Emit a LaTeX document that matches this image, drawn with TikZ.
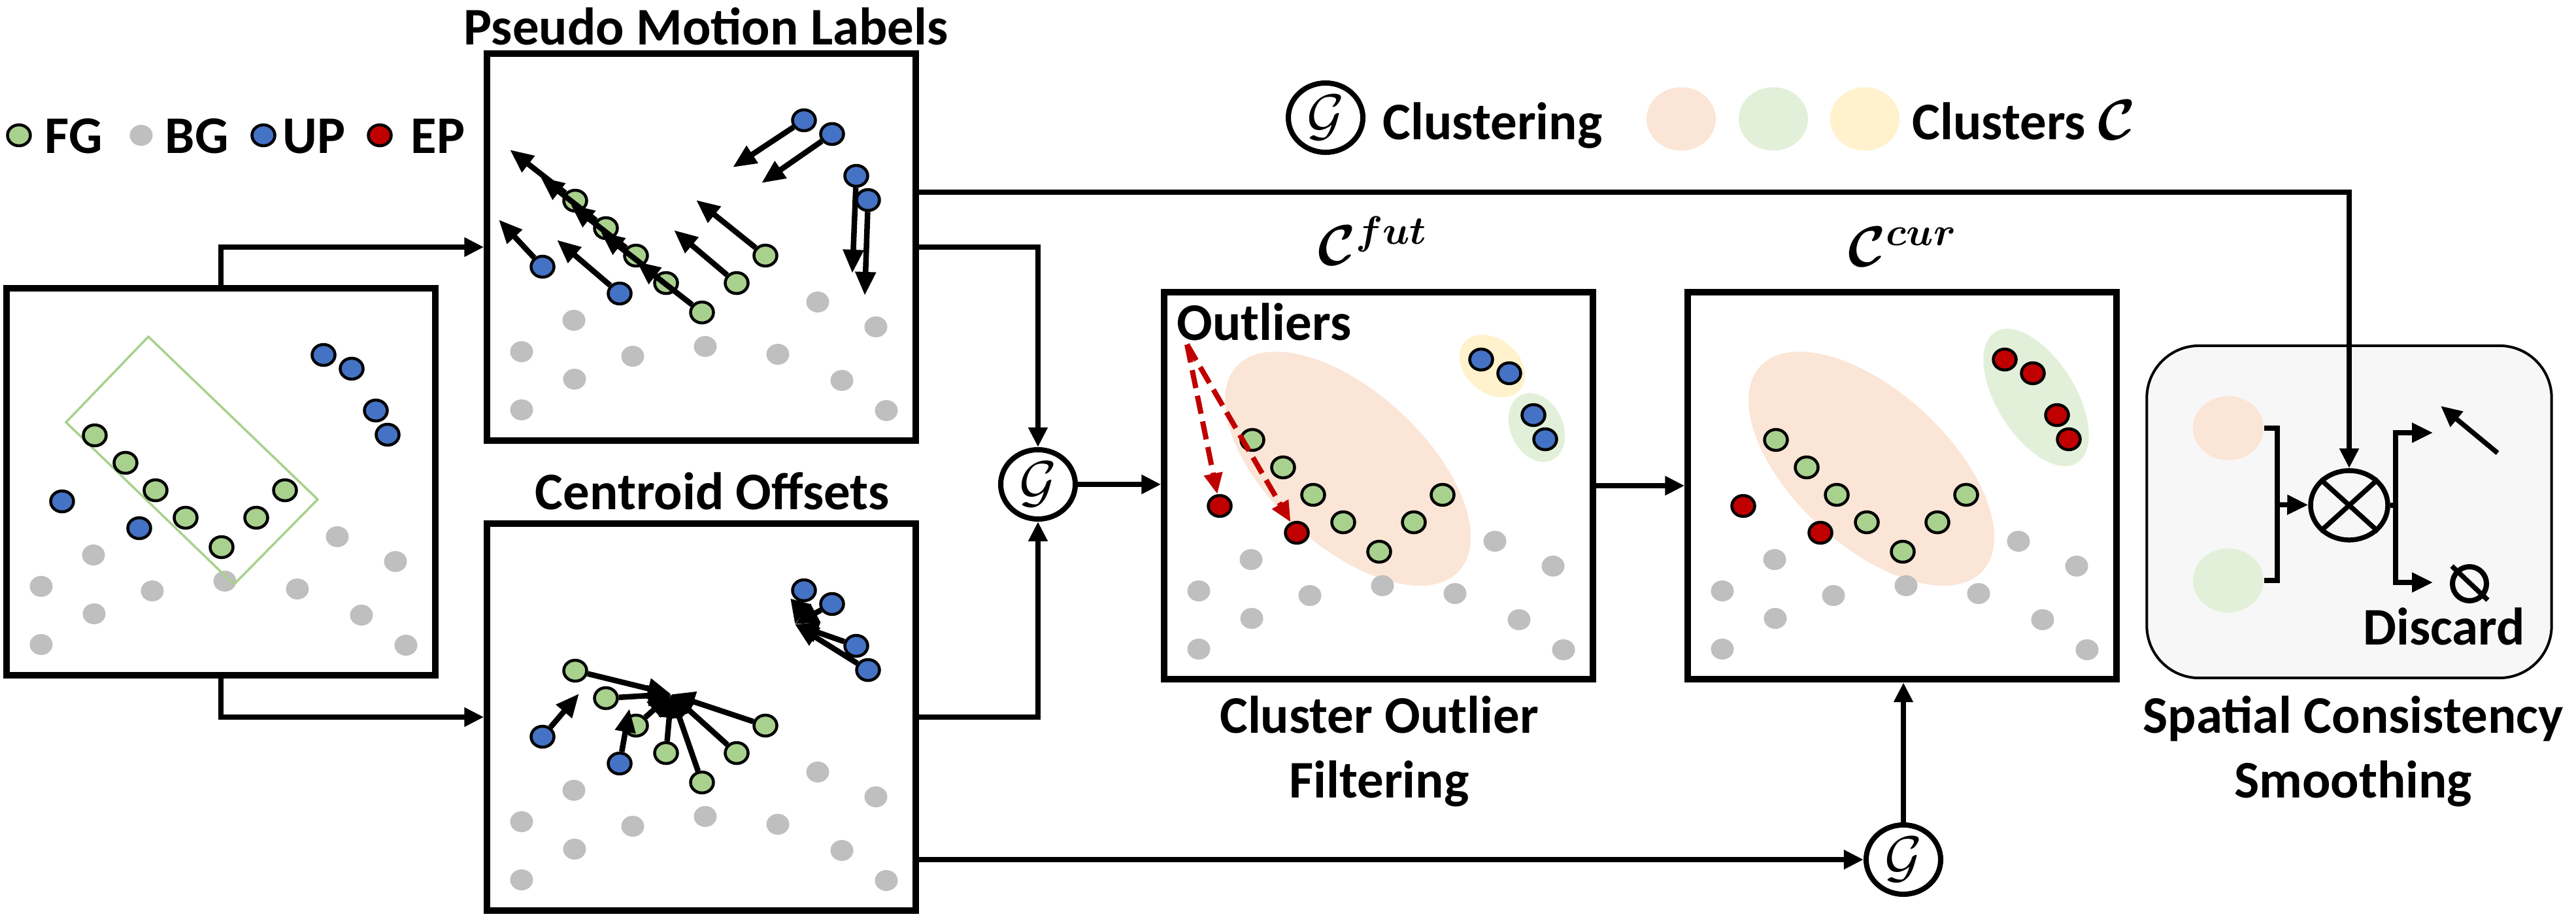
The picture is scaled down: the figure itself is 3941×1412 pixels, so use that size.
\documentclass[tikz,border=0pt]{standalone}
\usepackage{amsmath}
\usepackage{amssymb}
\usepackage{fontspec}
\setmainfont{Carlito}
\usepackage{tikz}
\usetikzlibrary{arrows.meta}
\usetikzlibrary{shapes.geometric}
\definecolor{fgc}{HTML}{A9D18E}
\definecolor{bgc}{HTML}{BFBFBF}
\definecolor{upc}{HTML}{4472C4}
\definecolor{epc}{HTML}{C00000}
\definecolor{cla}{HTML}{FBE5D6}
\definecolor{clb}{HTML}{E2F0D9}
\definecolor{clc}{HTML}{FFF2CC}
\definecolor{boxc}{HTML}{F7F7F7}
\tikzstyle{spot}=[ellipse, inner sep=0pt, minimum width=0.35cm, minimum height=0.32cm]
\tikzstyle{fg}=[spot, draw=black, line width=0.045cm, fill=fgc]
\tikzstyle{bg}=[spot, fill=bgc]
\tikzstyle{up}=[spot, draw=black, line width=0.045cm, fill=upc]
\tikzstyle{ep}=[spot, draw=black, line width=0.045cm, fill=epc]
\tikzstyle{panel}=[draw, line width=0.1cm, minimum width=6.55cm, minimum height=5.92cm, inner sep=0pt]
\tikzstyle{clus}=[ellipse, draw, line width=0.08cm, minimum width=1.14cm, minimum height=1.06cm, inner sep=0pt, font=\fontsize{26}{30}\selectfont]
\tikzstyle{blob}=[ellipse, inner sep=0pt, minimum width=1.06cm, minimum height=0.97cm]
\tikzstyle{link}=[line width=0.085cm, -{Triangle[length=0.3cm, width=0.28cm]}]
\tikzstyle{link2}=[line width=0.075cm, -{Triangle[length=0.32cm, width=0.29cm]}]
\tikzstyle{motion}=[line width=0.085cm, -{Triangle[length=0.36cm, width=0.3cm]}]
\tikzstyle{outl}=[draw=epc, line width=0.08cm, dash pattern=on 0.28cm off 0.12cm, -{Triangle[length=0.32cm, width=0.27cm]}]
\tikzstyle{txt}=[font=\fontsize{23}{28}\selectfont\bfseries, inner sep=0pt, anchor=base]
\tikzstyle{mathlbl}=[font=\fontsize{27}{30}\selectfont, inner sep=0pt, anchor=base]

\newcommand{\bgdots}[1]{\foreach \x/\y [count=\i] in {132/408, 52/456, 222/463, 333/448, 444/460, 505/380, 594/418, 133/498, 542/500, 52/545, 610/546}
    \node[bg] (#1s\i) at (\x,\y) {};}
\newcommand{\fgdots}[1]{\foreach \x/\y [count=\i] in {134/225, 181/267, 227/309, 273/351, 328/396, 381/351, 425/309}
    \node[fg] (#1g\i) at (\x,\y) {};}
\newcommand{\updots}[3]{\foreach \x/\y [count=\i] in {84/326, 202/367}
    \node[#2] (#1u\i) at (\x,\y) {};
  \foreach \x/\y [count=\i from 3] in {484/102, 527/123, 564/187, 582/224}
    \node[#3] (#1u\i) at (\x,\y) {};}

\begin{document}
\begin{tikzpicture}[x=0.01cm, y=-0.01cm]
	\useasboundingbox (0,0) rectangle (3941,1412);

	\node[fg] (kfg) at (29,207) {};
	\node[txt, anchor=base west] (tfg) at (68,234) {FG};
	\node[bg] (kbg) at (216,207) {};
	\node[txt, anchor=base west] (tbg) at (252,234) {BG};
	\node[up] (kup) at (403,207) {};
	\node[txt, anchor=base west] (tup) at (432,234) {UP};
	\node[ep] (kep) at (581,207) {};
	\node[txt, anchor=base west] (tep) at (628,234) {EP};

	\node[clus] (kg) at (2028,180) {$\mathcal{G}$};
	\node[txt, anchor=base west] (tclu) at (2115,213) {Clustering};
	\node[blob, fill=cla] (ka) at (2572,182) {};
	\node[blob, fill=clb] (kb) at (2713,182) {};
	\node[blob, fill=clc] (kc) at (2853,182) {};
	\node[txt, anchor=base west] (tcls) at (2925,213) {Clusters $\boldsymbol{\mathcal{C}}$};

	\begin{scope}[shift={(11,441)}]
		\node[panel] (inp) at (327,296) {};
		\bgdots{inp}
		\draw[fgc, line width=0.035cm] (216,74) -- (475,323) -- (347,453) -- (90,205) -- cycle;
		\fgdots{inp}
		\updots{inp}{up}{up}
	\end{scope}

	\begin{scope}[shift={(746,82)}]
		\node[panel] (pml) at (327,296) {};
		\bgdots{pml}
		\fgdots{pml}
		\updots{pml}{up}{up}
		\foreach \n/\dx/\dy in {g1/-100/-78, g2/-100/-78, g3/-100/-78, g4/-100/-78, g5/-100/-78, g6/-96/-81, g7/-106/-85, u1/-67/-72, u2/-96/-82, u3/-109/72, u4/-108/75, u5/-6/149, u6/-5/146}
			\draw[motion] (pml\n) -- ++(\dx,\dy);
	\end{scope}

	\begin{scope}[shift={(746,801)}]
		\node[panel] (co) at (327,296) {};
		\bgdots{co}
		\fgdots{co}
		\updots{co}{up}{up}
		\coordinate (ctrg) at (281,261);
		\coordinate (ctru) at (470,154);
		\foreach \n in {1,...,7}
			\draw[motion] (cog\n) -- (ctrg);
		\draw[motion] (cou1) -- ++(56,-66);
		\draw[motion] (cou2) -- ++(15,-84);
		\foreach \n in {3,...,6}
			\draw[motion] (cou\n) -- (ctru);
	\end{scope}

	\begin{scope}[shift={(1782,448)}]
		\node[panel] (fut) at (327,295) {};
		\fill[cla, rotate around={-42.6:(280,269)}] (280,269) ellipse [x radius=2.31cm, y radius=1.18cm];
		\fill[clc, rotate around={-40:(501,112)}] (501,112) ellipse [x radius=0.56cm, y radius=0.41cm];
		\fill[clb, rotate around={-65:(569,206)}] (569,206) ellipse [x radius=0.55cm, y radius=0.40cm];
		\bgdots{fut}
		\fgdots{fut}
		\updots{fut}{ep}{up}
	\end{scope}

	\begin{scope}[shift={(2583,448)}]
		\node[panel] (cur) at (327,295) {};
		\fill[cla, rotate around={-42.6:(280,269)}] (280,269) ellipse [x radius=2.31cm, y radius=1.18cm];
		\fill[clb, rotate around={-58:(532,160)}] (532,160) ellipse [x radius=1.18cm, y radius=0.60cm];
		\bgdots{cur}
		\fgdots{cur}
		\updots{cur}{ep}{ep}
	\end{scope}

	\node[txt] (tpml) at (1080,68) {Pseudo Motion Labels};
	\node[txt] (tco) at (1090,779) {Centroid Offsets};
	\node[txt, anchor=base west] (tout) at (1800,520) {Outliers};
	\node[mathlbl] (tfut) at (2100,405) {$\boldsymbol{\mathcal{C}^{fut}}$};
	\node[mathlbl] (tcur) at (2911,407) {$\boldsymbol{\mathcal{C}^{cur}}$};
	\node[txt] (tcof) at (2110,1121) {Cluster Outlier};
	\node[txt] (tcof2) at (2110,1220) {Filtering};
	\node[txt] (tscs) at (3600,1121) {Spatial Consistency};
	\node[txt] (tscs2) at (3600,1220) {Smoothing};

	\coordinate (ol) at (1816,527);
	\draw[outl] (ol) -- (futu1);
	\draw[outl] (ol) -- (futu2);

	\node[clus] (g1) at (1588,741) {$\mathcal{G}$};
	\node[clus] (g2) at (2912,1315) {$\mathcal{G}$};

	\draw[link] (inp.north) |- (pml.west);
	\draw[link] (inp.south) |- (co.west);
	\draw[link] (pml.east) -| (g1);
	\draw[link] (co.east) -| (g1);
	\draw[link] (g1) -- (g1 -| fut.west);
	\draw[link] (fut.east) -- (cur.west);
	\draw[link] (co.east |- g2) -- (g2);
	\draw[link] (g2) -- (g2 |- cur.south);

	\node[draw, rounded corners=0.8cm, fill=boxc, line width=0.04cm, minimum width=6.19cm, minimum height=5.08cm] (scs) at (3594,783) {};
	\node[blob, fill=cla, minimum width=1.08cm, minimum height=0.98cm] (sa) at (3409,655) {};
	\node[blob, fill=clb, minimum width=1.08cm, minimum height=0.98cm] (sb) at (3409,888) {};
	\node[ellipse, draw, line width=0.075cm, minimum width=1.18cm, minimum height=1.06cm, inner sep=0pt] (mul) at (3594,773) {};
	\draw[line width=0.075cm] (mul.north west) -- (mul.south east) (mul.north east) -- (mul.south west);
	\coordinate (join) at (3484,772);
	\coordinate (fork) at (3665,773);
	\coordinate (keep) at (3722,662);
	\coordinate (drop) at (3722,891);
	\draw[line width=0.075cm] (sa.east) -| (join) |- (sb.east);
	\draw[link2] (join) -- (mul);
	\draw[line width=0.075cm] (mul.east) -- (fork);
	\draw[link2] (fork) |- (keep);
	\draw[link2] (fork) |- (drop);
	\draw[link2] (3821,693) -- (3734,621);
	\node[circle, draw, line width=0.08cm, minimum size=0.52cm, inner sep=0pt] (bin) at (3778,893) {};
	\draw[line width=0.075cm] (3751,866) -- (3806,918);
	\node[txt] (tdis) at (3739,986) {Discard};
	\draw[link] ([yshift=0.84cm]pml.east) -| (mul);
\end{tikzpicture}
\end{document}
